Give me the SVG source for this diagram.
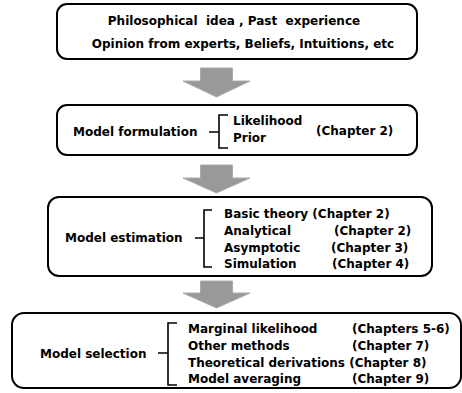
<svg xmlns="http://www.w3.org/2000/svg" width="462" height="393" viewBox="0 0 462 393">
<style>
.box{fill:#fff;stroke:#000;stroke-width:2}
.t{font-family:"DejaVu Sans",Verdana,sans-serif;font-weight:bold;font-size:12px;fill:#000}
.br{fill:none;stroke:#000;stroke-width:1.6}
.arr{fill:#999;stroke:#aaa;stroke-width:1}
</style>
<rect width="462" height="393" fill="#fff"/>
<g id="connectors">
<polygon class="arr" points="200.5,68 232.5,68 232.5,81 250,81 216.5,97 183,81 200.5,81"/>
<polygon class="arr" points="200.5,165 232.5,165 232.5,178 250,178 216.5,193 183,178 200.5,178"/>
<polygon class="arr" points="200.5,281 232.5,281 232.5,293 250,293 216.5,308 183,293 200.5,293"/>
</g>
<g id="n1">
<rect class="box" x="57" y="4" width="360" height="55" rx="10"/>
<text class="t" x="234" y="25" text-anchor="middle" xml:space="preserve">Philosophical  idea , Past  experience</text>
<text class="t" x="243" y="48" text-anchor="middle">Opinion from experts, Beliefs, Intuitions, etc</text>
</g>
<g id="n2">
<rect class="box" x="57" y="105" width="360" height="50" rx="10"/>
<text class="t" x="73" y="136">Model formulation</text>
<path class="br" d="M209,132 H219 M228,115 H219 V148 H228"/>
<text class="t" x="233" y="125">Likelihood</text>
<text class="t" x="233" y="142">Prior</text>
<text class="t" x="316" y="135">(Chapter 2)</text>
</g>
<g id="n3">
<rect class="box" x="48" y="197" width="384" height="79" rx="11"/>
<text class="t" x="65" y="242">Model estimation</text>
<path class="br" d="M195,238 H204 M212,210 H204 V267 H212"/>
<text class="t" x="224" y="218">Basic theory (Chapter 2)</text>
<text class="t" x="224" y="235">Analytical</text>
<text class="t" x="334" y="235">(Chapter 2)</text>
<text class="t" x="224" y="252">Asymptotic</text>
<text class="t" x="331" y="252">(Chapter 3)</text>
<text class="t" x="224" y="268">Simulation</text>
<text class="t" x="332" y="268">(Chapter 4)</text>
</g>
<g id="n4">
<rect class="box" x="12" y="313" width="449" height="75" rx="12"/>
<text class="t" x="40" y="358">Model selection</text>
<path class="br" d="M158,353 H168 M177,323 H168 V385 H177"/>
<text class="t" x="188" y="333">Marginal likelihood</text>
<text class="t" x="352" y="333">(Chapters 5-6)</text>
<text class="t" x="188" y="350">Other methods</text>
<text class="t" x="352" y="350">(Chapter 7)</text>
<text class="t" x="188" y="367">Theoretical derivations (Chapter 8)</text>
<text class="t" x="188" y="383">Model averaging</text>
<text class="t" x="352" y="383">(Chapter 9)</text>
</g>
</svg>
